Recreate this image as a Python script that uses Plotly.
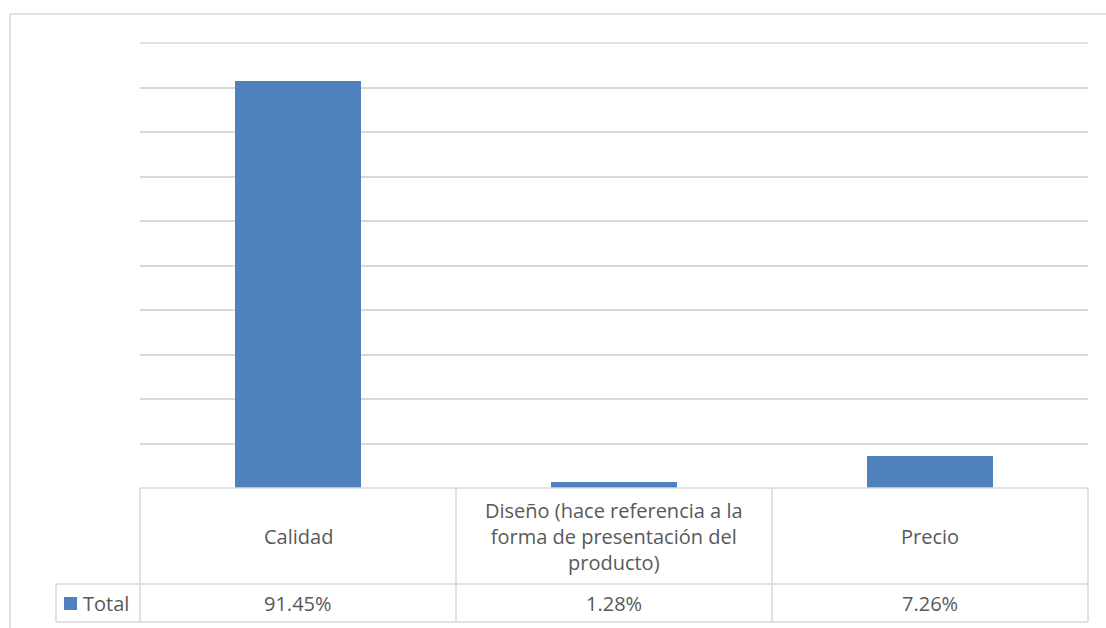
import textwrap
import plotly.graph_objects as go

# ---- data ----
categories = ["Calidad", "Diseño (hace referencia a la forma de presentación del producto)", "Precio"]
values = [0.9145, 0.0128, 0.0726]
series_name = "Total"

# ---- style ----
W, H = 1106, 628
ML, MR, MT, MB = 140, 18, 43, 140
PW, PH = W - ML - MR, H - MT - MB
BAR = "#4f81bd"
GRID = "#d9d9d9"
TXT = "#595959"
FONT = "Open Sans"
FS = 20

x_range = [-0.5, len(categories) - 0.5]
y_range = [0, 1]


def xp(px):  # pixel x -> paper
    return (px - ML) / PW


def yp(py):  # pixel y -> paper
    return (H - MB - py) / PH


def cat_paper(v):  # category coordinate -> paper
    return (v - x_range[0]) / (x_range[1] - x_range[0])


fig = go.Figure()
fig.add_trace(go.Bar(x=list(range(len(categories))), y=values, name=series_name,
                     marker=dict(color=BAR, line=dict(width=0)), width=0.4,
                     showlegend=False, hoverinfo="skip"))

shapes = []


def line(x0, y0, x1, y1, w=1.5, layer="above"):
    shapes.append(dict(type="line", xref="paper", yref="paper", x0=x0, y0=y0, x1=x1, y1=y1,
                       line=dict(color=GRID, width=w), layer=layer))


# top gridline (range edge)
line(0, 1, 1, 1, layer="below")

# table geometry (pixels)
row1_bot = 584
row2_bot = 622
key_left = 56
y_top = yp(H - MB)
y_r1 = yp(row1_bot)
y_r2 = yp(row2_bot)

# table horizontal lines
line(0, y_top, 1, y_top)
line(xp(key_left), y_r1, 1, y_r1)
line(xp(key_left), y_r2, 1, y_r2)
# table vertical lines at category boundaries
for i in range(len(categories) + 1):
    xb = cat_paper(i - 0.5)
    line(xb, y_top, xb, y_r2)
line(xp(key_left), y_r1, xp(key_left), y_r2)

# outer chart frame
line(xp(10), yp(14), xp(W + 20), yp(14))
line(xp(10), yp(14), xp(10), yp(H + 20))

# legend key square
shapes.append(dict(type="rect", xref="paper", yref="paper",
                   x0=xp(64), x1=xp(77), y0=yp(597), y1=yp(610),
                   fillcolor=BAR, line=dict(width=0), layer="above"))

annotations = []
for i, (c, v) in enumerate(zip(categories, values)):
    label = "<br>".join(textwrap.wrap(c, 28))
    annotations.append(dict(x=cat_paper(i), y=(y_top + y_r1) / 2, xref="paper", yref="paper",
                            text=label, showarrow=False, xanchor="center", yanchor="middle",
                            font=dict(family=FONT, size=FS, color=TXT)))
    annotations.append(dict(x=cat_paper(i), y=(y_r1 + y_r2) / 2, xref="paper", yref="paper",
                            text=f"{v:.2%}", showarrow=False, xanchor="center", yanchor="middle",
                            font=dict(family=FONT, size=FS, color=TXT)))
annotations.append(dict(x=xp(81), y=(y_r1 + y_r2) / 2, xref="paper", yref="paper",
                        text=series_name, showarrow=False, xanchor="left", yanchor="middle",
                        font=dict(family=FONT, size=FS, color=TXT)))

fig.update_layout(
    width=W, height=H,
    margin=dict(l=ML, r=MR, t=MT, b=MB, pad=0),
    paper_bgcolor="white", plot_bgcolor="white",
    xaxis=dict(range=x_range, showticklabels=False, showgrid=False, zeroline=False,
               showline=False, ticks=""),
    yaxis=dict(range=y_range, dtick=0.1, showticklabels=False, showgrid=True,
               gridcolor=GRID, gridwidth=1.5, zeroline=False, showline=False, ticks=""),
    shapes=shapes, annotations=annotations,
    bargap=0,
)

fig.write_html("out.html", config={"displayModeBar": False},
               post_script="document.body.style.margin='0';document.body.style.overflow='hidden';")
